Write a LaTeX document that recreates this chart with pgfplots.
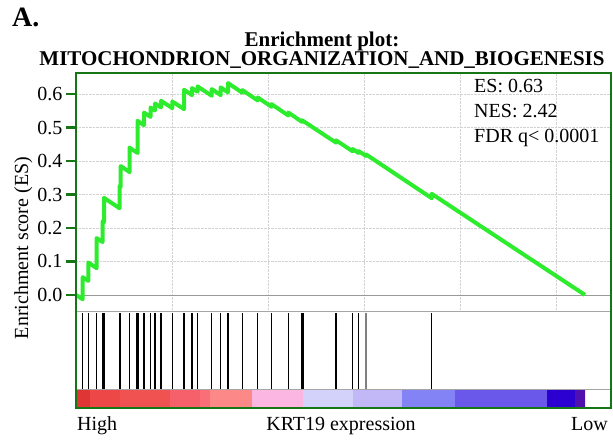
\documentclass[border=0pt]{standalone}
\usepackage{fontspec}
\setmainfont{Liberation Serif}
\usepackage{pgfplots}
\pgfplotsset{compat=1.18}
\definecolor{framegreen}{RGB}{22,118,22}
\definecolor{esgreen}{RGB}{45,235,45}
\definecolor{c1}{HTML}{E03535}
\definecolor{c2}{HTML}{EE4747}
\definecolor{c3}{HTML}{F05252}
\definecolor{c4}{HTML}{F5606A}
\definecolor{c5}{HTML}{FA6E78}
\definecolor{c6}{HTML}{FC8888}
\definecolor{c7}{HTML}{FBB6E2}
\definecolor{c8}{HTML}{D2D2FA}
\definecolor{c9}{HTML}{C2B8F8}
\definecolor{c10}{HTML}{8383F6}
\definecolor{c11}{HTML}{6A58EA}
\definecolor{c12}{HTML}{2C00D0}
\definecolor{c13}{HTML}{5010B0}
\begin{document}
\begin{tikzpicture}[x=1pt,y=1pt]
\useasboundingbox (0,0) rectangle (613,440);
% ES panel
\begin{axis}[
  at={(76pt,129pt)}, anchor=south west, scale only axis,
  width=535pt, height=238pt,
  xmin=0, xmax=535, ymin=-0.048, ymax=0.663,
  axis line style={gray!70, line width=0.8pt},
  xtick={96,192,288,384,480}, xticklabels={}, xtick style={draw=none},
  ytick={0,0.1,0.2,0.3,0.4,0.5,0.6},
  ytick style={framegreen, line width=2.5pt},
  major tick length=10pt, tick align=outside,
  ytick pos=left,
  grid=major, major grid style={densely dotted, gray!35, line width=0.7pt},
  yticklabel style={font=\fontsize{20}{24}\selectfont, /pgf/number format/.cd, fixed, fixed zerofill, precision=1, assume math mode=true},
  clip=true,
]
\addplot[gray!80, line width=0.8pt] coordinates {(0,0) (535,0)};
\addplot[esgreen, line width=4pt, line join=round] coordinates {
(0,0)
(6.7,-0.013) (6.7,0.053)
(12.3,0.042) (12.3,0.097)
(20.6,0.080) (20.6,0.17)
(26.5,0.158) (26.5,0.22)
(28,0.217) (28,0.29)
(43.5,0.259) (43.5,0.325)
(44.7,0.323) (44.7,0.385)
(53.5,0.367) (53.5,0.44)
(61.5,0.424) (61.5,0.52)
(68,0.507) (68,0.545)
(74.5,0.532) (74.5,0.56)
(79,0.551) (79,0.572)
(85,0.56) (85,0.58)
(96.3,0.558) (96.3,0.578)
(108,0.555) (108,0.613)
(116,0.597) (116,0.618)
(121.5,0.607) (121.5,0.623)
(135.7,0.595) (135.7,0.615)
(144.7,0.597) (144.7,0.62)
(152,0.605) (152,0.633)
(166.3,0.604) (166.3,0.612)
(181.7,0.581) (181.7,0.59)
(195.5,0.562) (195.5,0.57)
(212.3,0.536) (212.3,0.545)
(226,0.517) (226,0.522)
(260,0.455) (260,0.462)
(276.7,0.429) (276.7,0.436)
(282.5,0.424) (282.5,0.43)
(290,0.415) (290,0.42)
(355.7,0.289) (355.7,0.302)
(509,0.0)
};
\node[anchor=base west, font=\fontsize{20}{24}\selectfont, inner sep=0] at (rel axis cs:0.744,0.916) {ES: 0.63};
\node[anchor=base west, font=\fontsize{20}{24}\selectfont, inner sep=0] at (rel axis cs:0.744,0.811) {NES: 2.42};
\node[anchor=base west, font=\fontsize{20}{24}\selectfont, inner sep=0] at (rel axis cs:0.744,0.710) {FDR q< 0.0001};
\end{axis}
% hits panel
\begin{axis}[
  at={(76pt,51pt)}, anchor=south west, scale only axis,
  width=535pt, height=78pt,
  xmin=0, xmax=535, ymin=0, ymax=1,
  axis line style={gray!70, line width=0.8pt},
  xtick=\empty, ytick=\empty,
]
\addplot[ycomb, black, line width=1.3pt, mark=none] coordinates {
(6.7,0.97) (12.3,0.97) (20.6,0.97) (26.5,0.97) (28,0.97)
(43.5,0.97) (44.7,0.97) (53.5,0.97) (61,0.97) (62.2,0.97)
(68,0.97) (74.5,0.97) (79,0.97) (85,0.97) (96.3,0.97)
(108,0.97) (116,0.97) (121.5,0.97) (135.7,0.97) (144.7,0.97)
(152,0.97) (166.3,0.97) (181.7,0.97) (195.5,0.97) (212.3,0.97)
(226,0.97) (227.5,0.97) (260,0.97) (276.7,0.97) (282.5,0.97)
(355.7,0.97)
};
\addplot[ycomb, gray, line width=1.3pt, mark=none] coordinates {(290,0.97)};
\end{axis}
% colour bar
\begin{axis}[
  at={(76pt,33pt)}, anchor=south west, scale only axis,
  width=535pt, height=18pt,
  xmin=0, xmax=535, ymin=0, ymax=1,
  axis line style={gray!70, line width=0.8pt},
  xtick=\empty, ytick=\empty, axis on top,
]
\addplot[fill=c1, draw=none] coordinates {(1,0) (14,0) (14,1) (1,1) (1,0)};
\addplot[fill=c2, draw=none] coordinates {(14,0) (44,0) (44,1) (14,1) (14,0)};
\addplot[fill=c3, draw=none] coordinates {(44,0) (94,0) (94,1) (44,1) (44,0)};
\addplot[fill=c4, draw=none] coordinates {(94,0) (124,0) (124,1) (94,1) (94,0)};
\addplot[fill=c5, draw=none] coordinates {(124,0) (134,0) (134,1) (124,1) (124,0)};
\addplot[fill=c6, draw=none] coordinates {(134,0) (176,0) (176,1) (134,1) (134,0)};
\addplot[fill=c7, draw=none] coordinates {(176,0) (227,0) (227,1) (176,1) (176,0)};
\addplot[fill=c8, draw=none] coordinates {(227,0) (277,0) (277,1) (227,1) (227,0)};
\addplot[fill=c9, draw=none] coordinates {(277,0) (326,0) (326,1) (277,1) (277,0)};
\addplot[fill=c10, draw=none] coordinates {(326,0) (379,0) (379,1) (326,1) (326,0)};
\addplot[fill=c11, draw=none] coordinates {(379,0) (471,0) (471,1) (379,1) (379,0)};
\addplot[fill=c12, draw=none] coordinates {(471,0) (499,0) (499,1) (471,1) (471,0)};
\addplot[fill=c13, draw=none] coordinates {(499,0) (509,0) (509,1) (499,1) (499,0)};
\end{axis}
% outer frame
\draw[framegreen, line width=2.6pt] (76,32) rectangle (611,367);
% titles and labels
\node[anchor=base west, font=\bfseries\fontsize{28}{30}\selectfont, inner sep=0] at (12,413) {A.};
\node[anchor=base, font=\bfseries\fontsize{21}{22}\selectfont, inner sep=0] at (322,393) {Enrichment plot:};
\node[anchor=base, font=\bfseries\fontsize{21}{22}\selectfont, inner sep=0] at (322,374) {MITOCHONDRION\_ORGANIZATION\_AND\_BIOGENESIS};
\node[anchor=base, rotate=90, font=\fontsize{20}{24}\selectfont, inner sep=0] at (28,192) {Enrichment score (ES)};
\node[anchor=base west, font=\fontsize{20}{24}\selectfont, inner sep=0] at (77,10) {High};
\node[anchor=base, font=\fontsize{20}{24}\selectfont, inner sep=0] at (341,10) {KRT19 expression};
\node[anchor=base east, font=\fontsize{20}{24}\selectfont, inner sep=0] at (608,10) {Low};
\end{tikzpicture}
\end{document}
